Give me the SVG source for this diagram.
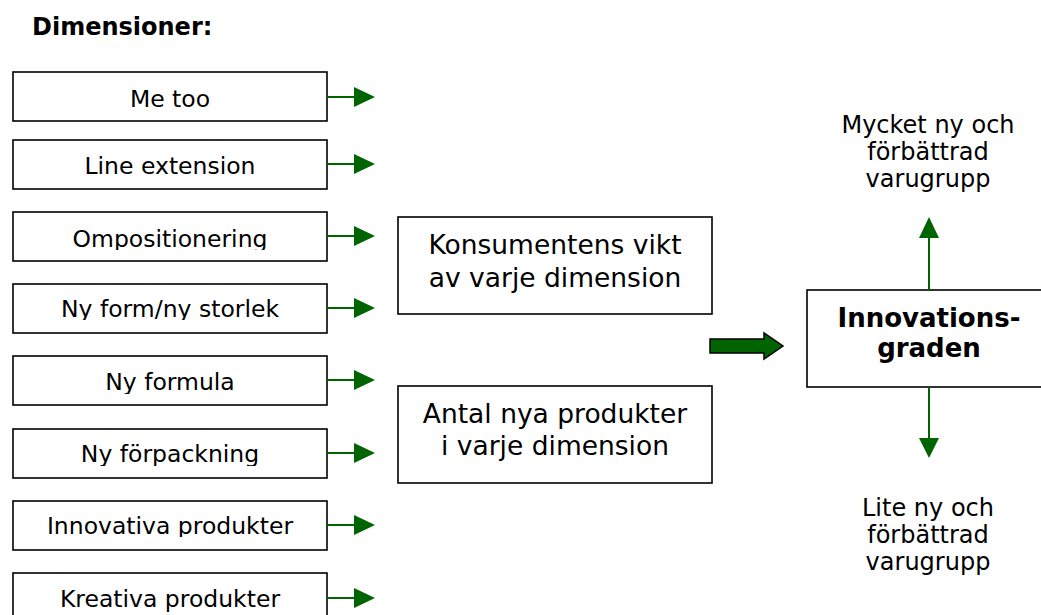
<svg xmlns="http://www.w3.org/2000/svg" width="1041" height="615" viewBox="0 0 1041 615">
<style>
.box{fill:#fff;stroke:#000;stroke-width:1.6}
.t{font-family:"DejaVu Sans",Verdana,sans-serif;fill:#000;text-anchor:middle}
.lt{font-size:23.5px}
.mt{font-size:26.5px}
.rt{font-size:24px}
.b{font-weight:bold}
.con{stroke:#006400;stroke-width:2;fill:none}
.head{fill:#006400}
</style>
<defs>
<clipPath id="c3"><rect x="0" y="200" width="400" height="50"/></clipPath>
<clipPath id="c4"><rect x="0" y="280" width="400" height="40"/></clipPath>
<clipPath id="c5"><rect x="0" y="350" width="400" height="44"/></clipPath>
<clipPath id="c6"><rect x="0" y="420" width="400" height="46"/></clipPath>
<clipPath id="c7"><rect x="0" y="495" width="400" height="42"/></clipPath>
</defs>
<text class="t b" x="32" y="35" style="font-size:24px;text-anchor:start">Dimensioner:</text>
<g id="n1"><rect class="box" x="13" y="72" width="314" height="49"/><text class="t lt" x="170" y="107">Me too</text></g>
<g id="n2"><rect class="box" x="13" y="140" width="314" height="49"/><text class="t lt" x="170" y="174">Line extension</text></g>
<g id="n3"><rect class="box" x="13" y="212" width="314" height="49"/><text class="t lt" x="170" y="247" clip-path="url(#c3)">Ompositionering</text></g>
<g id="n4"><rect class="box" x="13" y="284" width="314" height="49"/><text class="t lt" x="170" y="317" clip-path="url(#c4)">Ny form/ny storlek</text></g>
<g id="n5"><rect class="box" x="13" y="356" width="314" height="49"/><text class="t lt" x="170" y="390" clip-path="url(#c5)">Ny formula</text></g>
<g id="n6"><rect class="box" x="13" y="429" width="314" height="49"/><text class="t lt" x="170" y="462" clip-path="url(#c6)">Ny förpackning</text></g>
<g id="n7"><rect class="box" x="13" y="501" width="314" height="49"/><text class="t lt" x="170" y="534" clip-path="url(#c7)">Innovativa produkter</text></g>
<g id="n8"><rect class="box" x="13" y="573" width="314" height="49"/><text class="t lt" x="170" y="607">Kreativa produkter</text></g>
<g id="m1"><rect class="box" x="398" y="217" width="314" height="97"/><text class="t mt" x="555" y="254">Konsumentens vikt</text><text class="t mt" x="555" y="287">av varje dimension</text></g>
<g id="m2"><rect class="box" x="398" y="386" width="314" height="97"/><text class="t mt" x="555" y="423">Antal nya produkter</text><text class="t mt" x="555" y="455">i varje dimension</text></g>
<g id="inn"><rect class="box" x="807" y="290" width="260" height="97"/><text class="t b" x="929" y="327" style="font-size:26px">Innovations-</text><text class="t b" x="929" y="357" style="font-size:26px">graden</text></g>
<g id="top"><text class="t rt" x="928" y="133">Mycket ny och</text><text class="t rt" x="928" y="160">förbättrad</text><text class="t rt" x="928" y="187">varugrupp</text></g>
<g id="bottom"><text class="t rt" x="928" y="516">Lite ny och</text><text class="t rt" x="928" y="543">förbättrad</text><text class="t rt" x="928" y="570">varugrupp</text></g>
<g id="connectors">
<path class="con" d="M327 97H356M327 164H356M327 236H356M327 308H356M327 380H356M327 453H356M327 525H356M327 598H356"/>
<path class="head" d="M354 87L375 97L354 107ZM354 154L375 164L354 174ZM354 226L375 236L354 246ZM354 298L375 308L354 318ZM354 370L375 380L354 390ZM354 443L375 453L354 463ZM354 515L375 525L354 535ZM354 588L375 598L354 608Z"/>
<path d="M710 339H764V333L783 346L764 359V353H710Z" fill="#006400" stroke="#000" stroke-width="1.5"/>
<path class="con" d="M929 290V236M929 387V440"/>
<path class="head" d="M919 238L929 217L939 238ZM919 438L929 458L939 438Z"/>
</g>
</svg>
